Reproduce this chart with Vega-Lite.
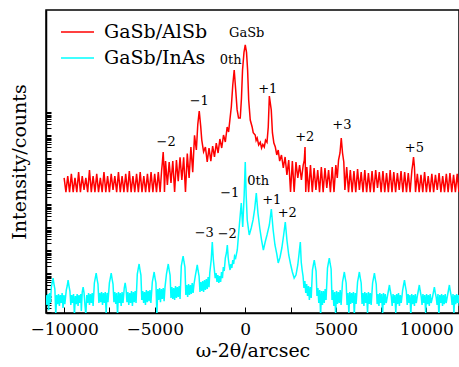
{
 "$schema": "https://vega.github.io/schema/vega-lite/v6.json",
 "width": 413, "height": 303,
 "autosize": {"type": "none"},
 "padding": {"left": 46, "top": 10, "right": 0, "bottom": 54},
 "config": {
  "font": "DejaVu Serif",
  "view": {"stroke": "black", "strokeWidth": 1.5},
  "axis": {"grid": false, "domainColor": "black", "domainWidth": 1.5, "tickColor": "black", "tickWidth": 1, "labelColor": "black", "titleColor": "black", "labelFont": "DejaVu Serif", "titleFont": "DejaVu Serif", "titleFontWeight": "normal"}
 },
 "encoding": {
  "x": {"field": "x", "type": "quantitative", "scale": {"domain": [-11000, 11800], "nice": false, "zero": false},
   "axis": {"values": [-10000,-7500,-5000,-2500,0,2500,5000,7500,10000], "format": "d", "labelExpr": "datum.value % 5000 === 0 ? datum.label : ''", "labelFlush": false, "labelOverlap": false, "tickSize": -6, "labelPadding": 14, "labelFontSize": 17, "title": "ω-2θ/arcsec", "titleFontSize": 19, "titlePadding": 4}},
  "y": {"field": "y", "type": "quantitative", "scale": {"type": "log", "domain": [1.88, 2.8e13], "nice": false},
   "axis": {"values": [2,3,4,5,6,7,8,9,10,20,30,40,50,60,70,80,90,100,200,300,400,500,600,700,800,900,1000,2000,3000,4000,5000,6000,7000,8000,9000,10000,20000,30000,40000,50000,60000,70000,80000,90000,100000,200000,300000,400000,500000,600000,700000,800000,900000,1000000,2000000,3000000,4000000,5000000,6000000,7000000,8000000,9000000,10000000,20000000,30000000,40000000,50000000,60000000,70000000,80000000,90000000,100000000,200000000,300000000,400000000,500000000,600000000,700000000,800000000,900000000,1000000000], "labels": false, "tickSize": -5, "title": "Intensity/counts", "titleFontSize": 19, "titlePadding": 16}}
 },
 "layer": [
  {
   "data": {"values": [
    {"x":-10000,"y":1.4e6},{"x":-9900,"y":3.4e5},{"x":-9800,"y":1.7e6},{"x":-9700,"y":3.4e5},{"x":-9600,"y":2.1e6},{"x":-9500,"y":3.4e5},{"x":-9400,"y":1.4e6},{"x":-9300,"y":3.4e5},{"x":-9200,"y":2.5e6},{"x":-9100,"y":3.4e5},
    {"x":-9000,"y":1.7e6},{"x":-8900,"y":4.2e5},{"x":-8800,"y":1.4e6},{"x":-8700,"y":3.4e5},{"x":-8600,"y":3.1e6},{"x":-8500,"y":3.4e5},{"x":-8400,"y":1.7e6},{"x":-8300,"y":3.4e5},{"x":-8200,"y":2.1e6},{"x":-8100,"y":3.4e5},
    {"x":-8000,"y":1.4e6},{"x":-7900,"y":3.4e5},{"x":-7800,"y":2.5e6},{"x":-7700,"y":3.4e5},{"x":-7600,"y":1.7e6},{"x":-7500,"y":3.4e5},{"x":-7400,"y":2.1e6},{"x":-7300,"y":4.2e5},{"x":-7200,"y":1.7e6},{"x":-7100,"y":3.4e5},
    {"x":-7000,"y":2.5e6},{"x":-6900,"y":3.4e5},{"x":-6800,"y":1.7e6},{"x":-6700,"y":3.4e5},{"x":-6600,"y":2.1e6},{"x":-6500,"y":3.4e5},{"x":-6400,"y":2.8e6},{"x":-6300,"y":3.4e5},{"x":-6200,"y":1.7e6},{"x":-6100,"y":3.4e5},
    {"x":-6000,"y":2.1e6},{"x":-5900,"y":3.4e5},{"x":-5800,"y":2.5e6},{"x":-5700,"y":3.4e5},{"x":-5600,"y":1.7e6},{"x":-5500,"y":3.4e5},{"x":-5400,"y":2.1e6},{"x":-5300,"y":3.4e5},{"x":-5200,"y":2.5e6},{"x":-5100,"y":3.4e5},
    {"x":-5000,"y":2.1e6},{"x":-4900,"y":3.4e5},{"x":-4800,"y":2.5e6},{"x":-4700,"y":3.4e5},{"x":-4620,"y":2.8e6},{"x":-4580,"y":6.0e6},{"x":-4530,"y":1.88e7},{"x":-4490,"y":4.0e6},{"x":-4460,"y":3.4e5},
    {"x":-4400,"y":7.6e6},{"x":-4300,"y":6.9e5},{"x":-4200,"y":6.9e6},{"x":-4100,"y":8.4e5},{"x":-4000,"y":7.6e6},{"x":-3900,"y":3.4e5},{"x":-3800,"y":8.4e6},{"x":-3700,"y":1.0e6},{"x":-3600,"y":1.1e7},{"x":-3500,"y":1.14e6},
    {"x":-3400,"y":1.1e7},{"x":-3300,"y":3.4e5},{"x":-3200,"y":1.6e7},{"x":-3100,"y":1.4e6},{"x":-3000,"y":3.1e7},{"x":-2900,"y":2.5e6},{"x":-2800,"y":1.0e8},{"x":-2700,"y":2.3e7},{"x":-2620,"y":3.0e8},{"x":-2540,"y":1.14e9},
    {"x":-2460,"y":2.5e8},{"x":-2400,"y":6.2e7},{"x":-2300,"y":1.9e7},{"x":-2200,"y":3.1e7},{"x":-2100,"y":7.0e6},{"x":-2000,"y":2.8e7},{"x":-1900,"y":7.6e6},{"x":-1800,"y":3.4e7},{"x":-1700,"y":1.14e7},{"x":-1600,"y":4.6e7},
    {"x":-1500,"y":1.7e7},{"x":-1400,"y":6.9e7},{"x":-1300,"y":2.8e7},{"x":-1200,"y":1.03e8},{"x":-1100,"y":5.1e7},{"x":-1000,"y":2.3e8},{"x":-920,"y":1.4e8},{"x":-850,"y":4.6e8},{"x":-770,"y":1.7e9},{"x":-690,"y":1.5e10},
    {"x":-610,"y":6.9e10},{"x":-530,"y":1.0e10},{"x":-450,"y":1.3e9},{"x":-370,"y":5.6e8},{"x":-276,"y":5.6e8},{"x":-210,"y":4.0e9},{"x":-150,"y":6.9e10},{"x":-70,"y":4.0e11},{"x":0,"y":8.44e11},{"x":70,"y":4.0e11},
    {"x":130,"y":6.9e10},{"x":190,"y":3.4e9},{"x":276,"y":4.6e8},{"x":380,"y":2.3e8},{"x":440,"y":1.3e8},{"x":550,"y":1.03e8},{"x":600,"y":6.0e7},{"x":660,"y":7.6e7},{"x":740,"y":3.8e7},{"x":830,"y":5.0e7},
    {"x":900,"y":2.8e7},{"x":970,"y":4.0e7},{"x":1050,"y":3.1e7},{"x":1120,"y":6.2e7},{"x":1200,"y":5.0e7},{"x":1270,"y":2.3e8},{"x":1330,"y":5.1e9},{"x":1436,"y":1.26e9},{"x":1500,"y":1.3e8},{"x":1580,"y":4.6e7},
    {"x":1660,"y":3.1e7},{"x":1740,"y":1.4e7},{"x":1820,"y":2.3e7},{"x":1900,"y":7.6e6},{"x":2000,"y":1.39e7},{"x":2100,"y":3.8e6},{"x":2200,"y":1.14e7},{"x":2300,"y":1.9e6},{"x":2400,"y":8.4e6},{"x":2500,"y":3.4e5},
    {"x":2600,"y":7.6e6},{"x":2700,"y":3.4e5},{"x":2800,"y":6.9e6},{"x":2900,"y":1.4e6},{"x":3000,"y":5.1e6},{"x":3100,"y":1.14e6},{"x":3200,"y":5.1e6},{"x":3260,"y":8.4e6},{"x":3300,"y":3.1e7},{"x":3340,"y":3.4e5},
    {"x":3400,"y":4.2e6},{"x":3500,"y":3.4e5},{"x":3600,"y":5.1e6},{"x":3700,"y":3.4e5},{"x":3800,"y":3.8e6},{"x":3900,"y":4.2e5},{"x":4000,"y":3.1e6},{"x":4100,"y":3.4e5},{"x":4200,"y":4.2e6},{"x":4300,"y":3.4e5},
    {"x":4400,"y":3.8e6},{"x":4500,"y":5.1e5},{"x":4600,"y":3.1e6},{"x":4700,"y":3.4e5},{"x":4800,"y":4.2e6},{"x":4900,"y":3.4e5},{"x":5000,"y":5.1e6},{"x":5080,"y":1.4e6},{"x":5150,"y":8.4e6},{"x":5230,"y":1.7e7},
    {"x":5300,"y":7.6e7},{"x":5370,"y":1.7e7},{"x":5440,"y":6.9e6},{"x":5500,"y":4.2e5},{"x":5600,"y":4.2e6},{"x":5700,"y":3.4e5},{"x":5800,"y":3.1e6},{"x":5900,"y":3.4e5},{"x":6000,"y":2.8e6},{"x":6100,"y":3.4e5},
    {"x":6200,"y":3.4e6},{"x":6300,"y":4.2e5},{"x":6400,"y":2.5e6},{"x":6500,"y":3.4e5},{"x":6600,"y":3.1e6},{"x":6700,"y":3.4e5},{"x":6800,"y":2.3e6},{"x":6900,"y":3.4e5},{"x":7000,"y":2.8e6},{"x":7100,"y":3.4e5},
    {"x":7200,"y":3.1e6},{"x":7300,"y":5.1e5},{"x":7400,"y":2.5e6},{"x":7500,"y":3.4e5},{"x":7600,"y":2.8e6},{"x":7700,"y":3.4e5},{"x":7800,"y":2.3e6},{"x":7900,"y":3.4e5},{"x":8000,"y":3.1e6},{"x":8100,"y":3.4e5},
    {"x":8200,"y":2.5e6},{"x":8300,"y":3.4e5},{"x":8400,"y":2.3e6},{"x":8500,"y":4.2e5},{"x":8600,"y":2.8e6},{"x":8700,"y":3.4e5},{"x":8800,"y":2.5e6},{"x":8900,"y":3.4e5},{"x":9000,"y":2.3e6},{"x":9100,"y":3.4e5},
    {"x":9200,"y":3.1e6},{"x":9240,"y":5.1e6},{"x":9290,"y":1.14e7},{"x":9340,"y":4.2e6},{"x":9400,"y":3.4e5},{"x":9500,"y":2.1e6},{"x":9600,"y":3.4e5},{"x":9700,"y":1.9e6},{"x":9800,"y":3.4e5},{"x":9900,"y":2.5e6},
    {"x":10000,"y":3.4e5},{"x":10100,"y":1.7e6},{"x":10200,"y":3.4e5},{"x":10300,"y":2.1e6},{"x":10400,"y":3.4e5},{"x":10500,"y":1.9e6},{"x":10600,"y":4.2e5},{"x":10700,"y":2.3e6},{"x":10800,"y":3.4e5},{"x":10900,"y":1.7e6},
    {"x":11000,"y":3.4e5},{"x":11100,"y":2.1e6},{"x":11200,"y":3.4e5},{"x":11300,"y":2.3e6},{"x":11400,"y":3.4e5},{"x":11500,"y":1.9e6},{"x":11600,"y":3.4e5},{"x":11700,"y":2.1e6},{"x":11800,"y":3.4e5}
   ]},
   "mark": {"type": "line", "strokeWidth": 1.5, "clip": true},
   "encoding": {"color": {"datum": "GaSb/AlSb", "type": "nominal",
     "scale": {"domain": ["GaSb/AlSb", "GaSb/InAs"], "range": ["#ff0000", "#00ffff"]},
     "legend": {"orient": "none", "legendX": 14, "legendY": 9, "title": null, "symbolType": "stroke", "symbolSize": 1089, "symbolStrokeWidth": 1.5, "labelFontSize": 19, "labelFont": "DejaVu Serif", "labelColor": "black", "labelOffset": 9, "rowPadding": 0, "clipHeight": 26, "padding": 0}}}
  },
  {
   "data": {"values": [
    {"x":-11000,"y":11.4},{"x":-10950,"y":4.2},{"x":-10900,"y":12.6},{"x":-10850,"y":2.5},{"x":-10800,"y":14},{"x":-10750,"y":5.1},{"x":-10710,"y":23},{"x":-10660,"y":38},{"x":-10610,"y":62},{"x":-10560,"y":34},
    {"x":-10510,"y":20.8},{"x":-10460,"y":1.5},{"x":-10410,"y":11.4},{"x":-10360,"y":4.6},{"x":-10310,"y":12.6},{"x":-10260,"y":3.8},{"x":-10210,"y":11.4},{"x":-10160,"y":5.1},{"x":-10110,"y":14},{"x":-10060,"y":3.1},
    {"x":-10010,"y":11.4},{"x":-9960,"y":4.6},{"x":-9880,"y":18.8},{"x":-9830,"y":28},{"x":-9780,"y":51},{"x":-9730,"y":28},{"x":-9680,"y":17},{"x":-9630,"y":4.2},{"x":-9580,"y":11.4},{"x":-9530,"y":5.1},
    {"x":-9480,"y":12.6},{"x":-9430,"y":1.5},{"x":-9380,"y":10.3},{"x":-9330,"y":4.6},{"x":-9280,"y":12.6},{"x":-9230,"y":3.8},{"x":-9180,"y":11.4},{"x":-9130,"y":5.1},{"x":-9080,"y":12.6},{"x":-9050,"y":2.3},
    {"x":-9000,"y":15.4},{"x":-8950,"y":25},{"x":-8900,"y":14},{"x":-8850,"y":4.2},{"x":-8800,"y":1.5},{"x":-8750,"y":11.4},{"x":-8700,"y":5.1},{"x":-8650,"y":14},{"x":-8600,"y":4.2},{"x":-8550,"y":12.6},
    {"x":-8500,"y":5.1},{"x":-8450,"y":14},{"x":-8400,"y":3.8},{"x":-8330,"y":38},{"x":-8280,"y":62},{"x":-8230,"y":103},{"x":-8180,"y":56},{"x":-8130,"y":34},{"x":-8080,"y":5.1},{"x":-8030,"y":14},
    {"x":-7980,"y":5.6},{"x":-7930,"y":15.4},{"x":-7880,"y":4.2},{"x":-7830,"y":14},{"x":-7780,"y":5.1},{"x":-7730,"y":15.4},{"x":-7680,"y":1.9},{"x":-7630,"y":14},{"x":-7580,"y":5.6},{"x":-7500,"y":38},
    {"x":-7450,"y":62},{"x":-7400,"y":103},{"x":-7350,"y":56},{"x":-7300,"y":34},{"x":-7250,"y":5.6},{"x":-7200,"y":15.4},{"x":-7150,"y":4.6},{"x":-7100,"y":14},{"x":-7050,"y":1.5},{"x":-7000,"y":15.4},
    {"x":-6950,"y":5.1},{"x":-6900,"y":14},{"x":-6850,"y":3.8},{"x":-6800,"y":15.4},{"x":-6750,"y":5.1},{"x":-6680,"y":23},{"x":-6630,"y":38},{"x":-6580,"y":20.8},{"x":-6530,"y":5.6},{"x":-6480,"y":15.4},
    {"x":-6430,"y":4.2},{"x":-6380,"y":14},{"x":-6330,"y":5.1},{"x":-6280,"y":17},{"x":-6230,"y":3.8},{"x":-6180,"y":15.4},{"x":-6130,"y":5.6},{"x":-6080,"y":17},{"x":-6030,"y":5.1},{"x":-5960,"y":93},
    {"x":-5910,"y":154},{"x":-5860,"y":254},{"x":-5810,"y":139},{"x":-5760,"y":84},{"x":-5710,"y":6.9},{"x":-5660,"y":17},{"x":-5610,"y":5.1},{"x":-5560,"y":15.4},{"x":-5510,"y":4.2},{"x":-5460,"y":18.8},
    {"x":-5410,"y":5.6},{"x":-5360,"y":17},{"x":-5310,"y":6.2},{"x":-5260,"y":18.8},{"x":-5210,"y":5.1},{"x":-5130,"y":42},{"x":-5080,"y":69},{"x":-5030,"y":114},{"x":-4980,"y":62},{"x":-4930,"y":38},
    {"x":-4880,"y":1.5},{"x":-4830,"y":20.8},{"x":-4780,"y":6.9},{"x":-4730,"y":23},{"x":-4680,"y":5.6},{"x":-4630,"y":20.8},{"x":-4580,"y":7.6},{"x":-4530,"y":23},{"x":-4480,"y":6.2},{"x":-4430,"y":25},
    {"x":-4350,"y":93},{"x":-4300,"y":154},{"x":-4250,"y":254},{"x":-4200,"y":139},{"x":-4150,"y":84},{"x":-4100,"y":8.4},{"x":-4050,"y":25},{"x":-4000,"y":7.6},{"x":-3950,"y":23},{"x":-3900,"y":6.9},
    {"x":-3850,"y":28},{"x":-3800,"y":8.4},{"x":-3750,"y":25},{"x":-3700,"y":9.3},{"x":-3650,"y":28},{"x":-3600,"y":7.6},{"x":-3530,"y":208},{"x":-3480,"y":343},{"x":-3430,"y":564},{"x":-3380,"y":310},
    {"x":-3330,"y":188},{"x":-3280,"y":11.4},{"x":-3230,"y":31},{"x":-3180,"y":9.3},{"x":-3130,"y":34},{"x":-3080,"y":11.4},{"x":-3030,"y":31},{"x":-2980,"y":12.6},{"x":-2930,"y":38},{"x":-2880,"y":14},
    {"x":-2830,"y":34},{"x":-2750,"y":84},{"x":-2700,"y":139},{"x":-2650,"y":230},{"x":-2600,"y":126},{"x":-2550,"y":76},{"x":-2500,"y":15.4},{"x":-2450,"y":42},{"x":-2400,"y":17},{"x":-2350,"y":46},
    {"x":-2300,"y":15.4},{"x":-2250,"y":51},{"x":-2200,"y":18.8},{"x":-2150,"y":56},{"x":-2100,"y":20.8},{"x":-2050,"y":69},{"x":-2000,"y":25},{"x":-1960,"y":103},{"x":-1880,"y":378},{"x":-1820,"y":2300},
    {"x":-1760,"y":378},{"x":-1710,"y":154},{"x":-1660,"y":62},{"x":-1610,"y":103},{"x":-1560,"y":42},{"x":-1510,"y":84},{"x":-1460,"y":38},{"x":-1410,"y":76},{"x":-1360,"y":42},{"x":-1310,"y":114},
    {"x":-1260,"y":62},{"x":-1210,"y":188},{"x":-1160,"y":126},{"x":-1100,"y":462},{"x":-1040,"y":763},{"x":-990,"y":1700},{"x":-940,"y":462},{"x":-890,"y":230},{"x":-840,"y":139},{"x":-790,"y":254},
    {"x":-740,"y":170},{"x":-690,"y":378},{"x":-640,"y":254},{"x":-590,"y":564},{"x":-530,"y":462},{"x":-440,"y":1030},{"x":-340,"y":9330},{"x":-220,"y":114000},{"x":-140,"y":10300},{"x":-60,"y":254000},
    {"x":0,"y":6900000},{"x":50,"y":254000},{"x":110,"y":20800},{"x":220,"y":4630},{"x":330,"y":9330},{"x":430,"y":20800},{"x":520,"y":62500},{"x":610,"y":310000},{"x":700,"y":41900},{"x":800,"y":9330},
    {"x":900,"y":2800},{"x":1000,"y":1030},{"x":1100,"y":2300},{"x":1200,"y":4630},{"x":1330,"y":12600},{"x":1440,"y":62500},{"x":1540,"y":7640},{"x":1640,"y":1700},{"x":1740,"y":700},{"x":1820,"y":281},
    {"x":1920,"y":500},{"x":2020,"y":1258},{"x":2120,"y":4630},{"x":2210,"y":17000},{"x":2300,"y":2800},{"x":2400,"y":625},{"x":2500,"y":254},{"x":2600,"y":114},{"x":2700,"y":62},{"x":2800,"y":84},
    {"x":2900,"y":230},{"x":2970,"y":700},{"x":3040,"y":2300},{"x":3090,"y":310},{"x":3140,"y":139},{"x":3190,"y":76},{"x":3240,"y":23},{"x":3290,"y":46},{"x":3340,"y":14},{"x":3390,"y":34},
    {"x":3440,"y":10.3},{"x":3490,"y":28},{"x":3540,"y":6.9},{"x":3590,"y":25},{"x":3640,"y":8.4},{"x":3710,"y":139},{"x":3760,"y":230},{"x":3810,"y":378},{"x":3860,"y":208},{"x":3910,"y":126},
    {"x":3960,"y":10.3},{"x":4010,"y":23},{"x":4060,"y":5.1},{"x":4110,"y":18.8},{"x":4160,"y":1.5},{"x":4210,"y":17},{"x":4260,"y":4.2},{"x":4310,"y":17},{"x":4360,"y":5.1},{"x":4410,"y":20.8},
    {"x":4460,"y":6.9},{"x":4540,"y":170},{"x":4590,"y":281},{"x":4640,"y":462},{"x":4690,"y":254},{"x":4740,"y":154},{"x":4790,"y":6.9},{"x":4840,"y":18.8},{"x":4890,"y":3.8},{"x":4940,"y":15.4},
    {"x":4990,"y":1.5},{"x":5040,"y":17},{"x":5090,"y":4.6},{"x":5140,"y":15.4},{"x":5190,"y":5.1},{"x":5240,"y":18.8},{"x":5290,"y":4.2},{"x":5370,"y":42},{"x":5420,"y":69},{"x":5470,"y":114},
    {"x":5520,"y":62},{"x":5570,"y":38},{"x":5620,"y":4.2},{"x":5670,"y":14},{"x":5720,"y":1.9},{"x":5770,"y":15.4},{"x":5820,"y":4.6},{"x":5870,"y":14},{"x":5920,"y":5.1},{"x":5970,"y":15.4},
    {"x":6020,"y":1.5},{"x":6070,"y":14},{"x":6120,"y":4.6},{"x":6200,"y":42},{"x":6250,"y":69},{"x":6300,"y":114},{"x":6350,"y":62},{"x":6400,"y":38},{"x":6450,"y":4.6},{"x":6500,"y":14},
    {"x":6550,"y":3.8},{"x":6600,"y":15.4},{"x":6650,"y":5.1},{"x":6700,"y":14},{"x":6750,"y":1.9},{"x":6800,"y":15.4},{"x":6850,"y":4.6},{"x":6900,"y":14},{"x":6950,"y":4.2},{"x":7030,"y":38},
    {"x":7080,"y":62},{"x":7130,"y":103},{"x":7180,"y":56},{"x":7230,"y":34},{"x":7280,"y":4.6},{"x":7330,"y":12.6},{"x":7380,"y":3.8},{"x":7430,"y":14},{"x":7480,"y":5.1},{"x":7530,"y":12.6},
    {"x":7580,"y":1.5},{"x":7630,"y":14},{"x":7680,"y":4.2},{"x":7730,"y":12.6},{"x":7780,"y":5.1},{"x":7860,"y":11.4},{"x":7910,"y":18.8},{"x":7960,"y":31},{"x":8010,"y":17},{"x":8060,"y":10.3},
    {"x":8110,"y":3.8},{"x":8160,"y":12.6},{"x":8210,"y":5.1},{"x":8260,"y":11.4},{"x":8310,"y":1.9},{"x":8360,"y":12.6},{"x":8410,"y":4.6},{"x":8460,"y":14},{"x":8510,"y":3.8},{"x":8560,"y":11.4},
    {"x":8610,"y":5.1},{"x":8690,"y":18.8},{"x":8740,"y":31},{"x":8790,"y":51},{"x":8840,"y":28},{"x":8890,"y":17},{"x":8940,"y":4.2},{"x":8990,"y":12.6},{"x":9040,"y":5.1},{"x":9090,"y":11.4},
    {"x":9140,"y":1.5},{"x":9190,"y":12.6},{"x":9240,"y":4.6},{"x":9290,"y":11.4},{"x":9340,"y":3.8},{"x":9390,"y":12.6},{"x":9440,"y":5.1},{"x":9510,"y":11.4},{"x":9560,"y":18.8},{"x":9610,"y":31},
    {"x":9660,"y":17},{"x":9710,"y":10.3},{"x":9760,"y":4.2},{"x":9810,"y":12.6},{"x":9860,"y":5.1},{"x":9910,"y":11.4},{"x":9960,"y":1.9},{"x":10010,"y":12.6},{"x":10060,"y":4.6},{"x":10110,"y":11.4},
    {"x":10160,"y":3.8},{"x":10210,"y":12.6},{"x":10260,"y":5.1},{"x":10340,"y":9.3},{"x":10390,"y":15.4},{"x":10440,"y":25},{"x":10490,"y":14},{"x":10540,"y":9.3},{"x":10590,"y":4.2},{"x":10640,"y":12.6},
    {"x":10690,"y":1.5},{"x":10740,"y":11.4},{"x":10790,"y":5.1},{"x":10840,"y":12.6},{"x":10890,"y":3.8},{"x":10940,"y":11.4},{"x":10990,"y":4.6},{"x":11040,"y":12.6},{"x":11090,"y":5.1},{"x":11170,"y":11.4},
    {"x":11220,"y":18.8},{"x":11270,"y":31},{"x":11320,"y":17},{"x":11370,"y":10.3},{"x":11420,"y":4.2},{"x":11470,"y":12.6},{"x":11520,"y":1.9},{"x":11570,"y":11.4},{"x":11620,"y":4.6},{"x":11670,"y":12.6},
    {"x":11720,"y":5.1},{"x":11770,"y":11.4},{"x":11820,"y":3.8},{"x":11870,"y":12.6}
   ]},
   "mark": {"type": "line", "strokeWidth": 1.5, "clip": true},
   "encoding": {"color": {"datum": "GaSb/InAs", "type": "nominal"}}
  },
  {
   "data": {"values": [
    {"t":"GaSb","x":83,"y":2.8e12},
    {"t":"0th","x":-800,"y":1.88e11},
    {"t":"−1","x":-2540,"y":3.1e9},
    {"t":"+1","x":1243,"y":1.08e10},
    {"t":"−2","x":-4365,"y":5.1e7},
    {"t":"+2","x":3287,"y":8.4e7},
    {"t":"+3","x":5331,"y":2.8e8},
    {"t":"+5","x":9337,"y":2.8e7},
    {"t":"−1","x":-856,"y":2.95e5},
    {"t":"0th","x":718,"y":9.8e5},
    {"t":"+1","x":1464,"y":1.54e5},
    {"t":"+2","x":2320,"y":4.19e4},
    {"t":"−3","x":-2265,"y":5.9e3},
    {"t":"−2","x":-994,"y":4.9e3}
   ]},
   "mark": {"type": "text", "font": "DejaVu Serif", "fontSize": 13, "color": "black", "align": "center", "baseline": "middle"},
   "encoding": {"text": {"field": "t"}}
  }
 ]
}
